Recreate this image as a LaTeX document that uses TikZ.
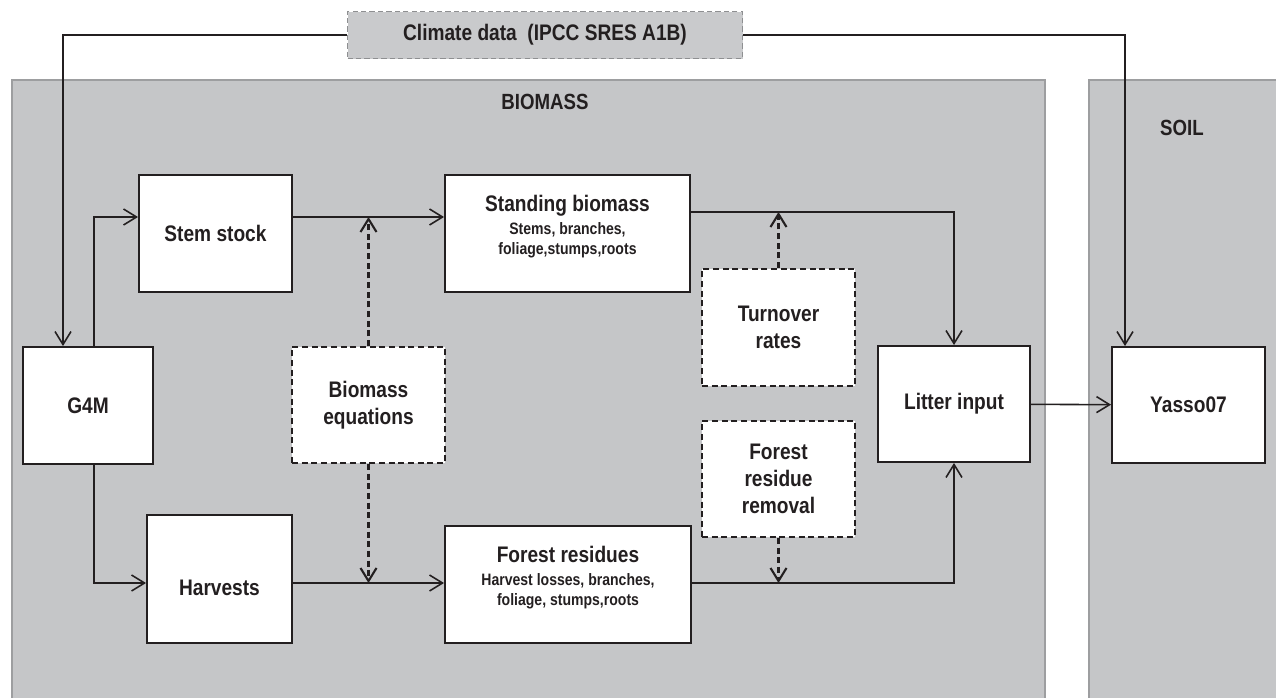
\documentclass[tikz,border=0pt]{standalone}
\usepackage{fontspec}
\setmainfont[FakeStretch=0.85]{Liberation Sans}
\usetikzlibrary{arrows.meta}

\definecolor{panelGray}{HTML}{C5C6C8}
\definecolor{panelEdge}{HTML}{9D9EA0}
\definecolor{climateGray}{HTML}{C9CACC}
\definecolor{climateEdge}{HTML}{8E8F91}
\definecolor{inkBlack}{HTML}{231F20}

\newcommand{\subTxt}{\fontsize{9.4}{11.4}\selectfont}

\begin{document}
\begin{tikzpicture}[carbonPanel/.style={draw=panelEdge, line width=1.1pt, fill=panelGray, inner sep=0pt},
    carbonBox/.style={draw=inkBlack, line width=1.1pt, fill=white, align=center, inner sep=2pt,
        font=\fontsize{12.8}{15.5}\selectfont\bfseries, text=inkBlack},
    carbonDash/.style={carbonBox, dash pattern=on 3.5pt off 2pt},
    carbonArrow/.style={-{Straight Barb[length=0.26cm, width=0.32cm]}, draw=inkBlack, line width=0.9pt},
    carbonDashArrow/.style={carbonArrow, line width=1.2pt, dash pattern=on 3.5pt off 2pt},
    carbonTitle/.style={font=\fontsize{12.5}{14}\selectfont\bfseries, text=inkBlack}]
    \useasboundingbox (0,0) rectangle (25.52,-13.94);

    % Panels
    \node[carbonPanel, minimum width=20.66cm, minimum height=12.5cm] (biomassPanel) at (10.57, -7.85) {};
    \node[carbonPanel, minimum width=4.02cm, minimum height=12.5cm] (soilPanel) at (23.79, -7.85) {};
    \node[carbonTitle] (biomassTitle) at (10.9, -2.04) {BIOMASS};
    \node[carbonTitle] (soilTitle) at (23.64, -2.56) {SOIL};

    % Climate driver
    \node[carbonBox, draw=climateEdge, fill=climateGray, line width=0.9pt, dash pattern=on 3pt off 1.8pt,
        minimum width=7.9cm, minimum height=0.94cm] (climate) at (10.9, -0.7) {Climate data~ (IPCC SRES A1B)};

    % Biomass module
    \node[carbonBox, minimum width=2.6cm, minimum height=2.34cm] (g4m) at (1.76, -8.11) {G4M};
    \node[carbonBox, minimum width=3.06cm, minimum height=2.34cm] (stemStock) at (4.31, -4.67) {Stem stock};
    \node[carbonBox, minimum width=2.9cm, minimum height=2.56cm] (harvests) at (4.39, -11.58)
        {\raisebox{-5pt}[\height][\depth]{Harvests}};
    \node[carbonBox, minimum width=4.9cm, minimum height=2.34cm] (standingBiomass) at (11.35, -4.67)
        {Standing biomass\\[-2.5pt]{\subTxt Stems, branches,}\\[-4pt]{\subTxt foliage,stumps,roots}\\[-6pt]\mbox{}};
    \node[carbonBox, minimum width=4.92cm, minimum height=2.34cm] (forestResidues) at (11.36, -11.69)
        {Forest residues\\[-2.5pt]{\subTxt Harvest losses, branches,}\\[-4pt]{\subTxt foliage, stumps,roots}\\[-6pt]\mbox{}};
    \node[carbonDash, minimum width=3.06cm, minimum height=2.32cm] (bioEq) at (7.37, -8.1) {Biomass\\equations};
    \node[carbonDash, minimum width=3.06cm, minimum height=2.34cm] (turnover) at (15.57, -6.55) {Turnover\\rates};
    \node[carbonDash, minimum width=3.06cm, minimum height=2.32cm] (residueRemoval) at (15.57, -9.58) {Forest\\residue\\removal};
    \node[carbonBox, minimum width=3.04cm, minimum height=2.32cm] (litterInput) at (19.08, -8.08) {Litter input};

    % Soil module
    \node[carbonBox, minimum width=3.06cm, minimum height=2.32cm] (yasso) at (23.77, -8.1) {Yasso07};

    % Flow levels
    \coordinate (upperFlow) at (0, -4.34);
    \coordinate (litterFlow) at (0, -4.24);
    \coordinate (lowerFlow) at (0, -11.66);

    \draw[carbonArrow] (climate.west) -| ([xshift=-0.5cm]g4m.north);
    \draw[carbonArrow] (climate.east) -| ([xshift=-1.27cm]yasso.north);

    \draw[carbonArrow] ([xshift=0.12cm]g4m.north) |- (stemStock.west |- upperFlow);
    \draw[carbonArrow] ([xshift=0.12cm]g4m.south) |- (harvests.west |- lowerFlow);
    \draw[carbonArrow] (stemStock.east |- upperFlow) -- (standingBiomass.west |- upperFlow);
    \draw[carbonArrow] (harvests.east |- lowerFlow) -- (forestResidues.west |- lowerFlow);
    \draw[carbonDashArrow] (bioEq.north) -- (bioEq.north |- upperFlow);
    \draw[carbonDashArrow] (bioEq.south) -- (bioEq.south |- lowerFlow);

    \draw[carbonArrow] (standingBiomass.east |- litterFlow) -| (litterInput.north);
    \draw[carbonArrow] (forestResidues.east |- lowerFlow) -| (litterInput.south);
    \draw[carbonDashArrow] (turnover.north) -- (turnover.north |- litterFlow);
    \draw[carbonDashArrow] (residueRemoval.south) -- (residueRemoval.south |- lowerFlow);

    \draw[carbonArrow] (litterInput) -- (yasso);
\end{tikzpicture}
\end{document}
